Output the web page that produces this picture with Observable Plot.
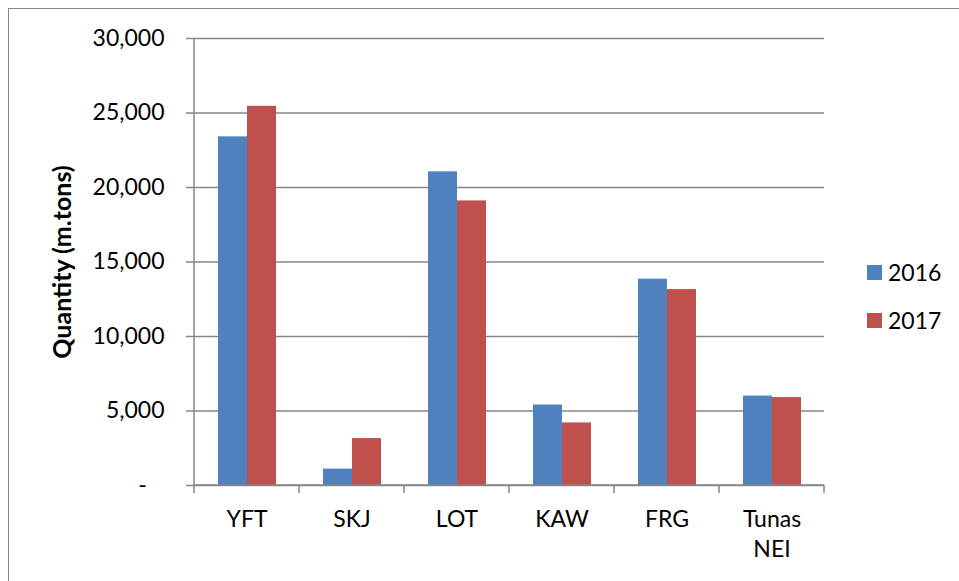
<!DOCTYPE html>
<html>
<head>
<meta charset="utf-8">
<script src="https://cdn.jsdelivr.net/npm/d3@7"></script>
<script src="https://cdn.jsdelivr.net/npm/@observablehq/plot@0.6"></script>
<style>
  html, body { margin: 0; padding: 0; background: #fff; }
  #wrap { position: relative; width: 959px; height: 581px; overflow: hidden; font-family: Lato, sans-serif; }
  #frame { position: absolute; left: 8px; top: 8px; width: 960px; height: 600px; border-left: 1.5px solid #868686; border-top: 1.5px solid #868686; box-sizing: border-box; pointer-events: none; }
  #ytitle { position: absolute; left: 61px; top: 262px; transform: translate(-50%, -50%) rotate(-90deg); font-weight: bold; font-size: 25px; white-space: nowrap; color: #000; }
  .leg { position: absolute; left: 867px; display: flex; align-items: center; font-size: 23px; color: #000; }
  .leg span.sw { display: inline-block; width: 15px; height: 15px; margin-right: 6px; }
</style>
</head>
<body>
<div id="wrap">
  <div id="chart"></div>
  <div id="frame"></div>
  <div id="ytitle">Quantity (m.tons)</div>
  <div id="legend"></div>
</div>
<script>
const categories = ["YFT", "SKJ", "LOT", "KAW", "FRG", "Tunas NEI"];
const categoryLabels = ["YFT", "SKJ", "LOT", "KAW", "FRG", "Tunas\nNEI"];
const years = ["2016", "2017"];
const values2016 = [23400, 1100, 21050, 5400, 13850, 6000];
const values2017 = [25450, 3150, 19100, 4200, 13150, 5900];
const yTicks = [0, 5000, 10000, 15000, 20000, 25000, 30000];
const colors = ["#4F81BD", "#C0504D"];

const data = [];
categories.forEach((c, i) => {
  data.push({cat: c, year: years[0], value: values2016[i]});
  data.push({cat: c, year: years[1], value: values2017[i]});
});

const gray = "#868686";
const fmt = d3.format(",");

const chart = Plot.plot({
  width: 959,
  height: 581,
  marginLeft: 193,
  marginRight: 134,
  marginTop: 38,
  marginBottom: 96,
  style: {fontFamily: "Lato, sans-serif", fontSize: "23px", color: "#000", background: "transparent"},
  fx: {domain: categories, padding: 0, label: null},
  x: {domain: years, paddingInner: 0, paddingOuter: 0.755, axis: null},
  y: {domain: [0, 30000], label: null},
  color: {domain: years, range: colors},
  marks: [
    Plot.gridY(yTicks, {stroke: gray, strokeOpacity: 1, strokeWidth: 1.5}),
    Plot.barY(data, {fx: "cat", x: "year", y: "value", fill: "year"}),
    Plot.axisY(yTicks, {
      tickSize: 8, tickPadding: 22, stroke: gray, strokeWidth: 1.5,
      tickFormat: d => d === 0 ? "-\u00a0\u00a0\u00a0" : fmt(d), label: null
    }),
    Plot.axisFx({
      anchor: "bottom",
      tickSize: 0, tickPadding: 20, label: null, lineHeight: 1.3,
      tickFormat: d => categoryLabels[categories.indexOf(d)]
    })
  ]
});

document.getElementById("chart").appendChild(chart);

// Axis lines and category boundary ticks, positioned through Plot's scales
const fx = chart.scale("fx");
const ys = chart.scale("y");
const y0 = ys.apply(0), yTop = ys.apply(30000);
const bounds = categories.map(c => fx.apply(c)).concat([fx.apply(categories[categories.length - 1]) + fx.bandwidth]);
const g = d3.select(chart).append("g").attr("stroke", gray).attr("stroke-width", 1.5);
g.append("line").attr("x1", bounds[0]).attr("x2", bounds[bounds.length - 1]).attr("y1", y0).attr("y2", y0);
g.append("line").attr("x1", bounds[0]).attr("x2", bounds[0]).attr("y1", yTop).attr("y2", y0);
bounds.forEach(b => {
  g.append("line").attr("x1", b).attr("x2", b).attr("y1", y0).attr("y2", y0 + 8);
});

// Legend
const legend = document.getElementById("legend");
const legendTops = [258, 306];
years.forEach((yr, i) => {
  const d = document.createElement("div");
  d.className = "leg";
  d.style.top = legendTops[i] + "px";
  d.innerHTML = `<span class="sw" style="background:${colors[i]}"></span><span>${yr}</span>`;
  legend.appendChild(d);
});
</script>
</body>
</html>
